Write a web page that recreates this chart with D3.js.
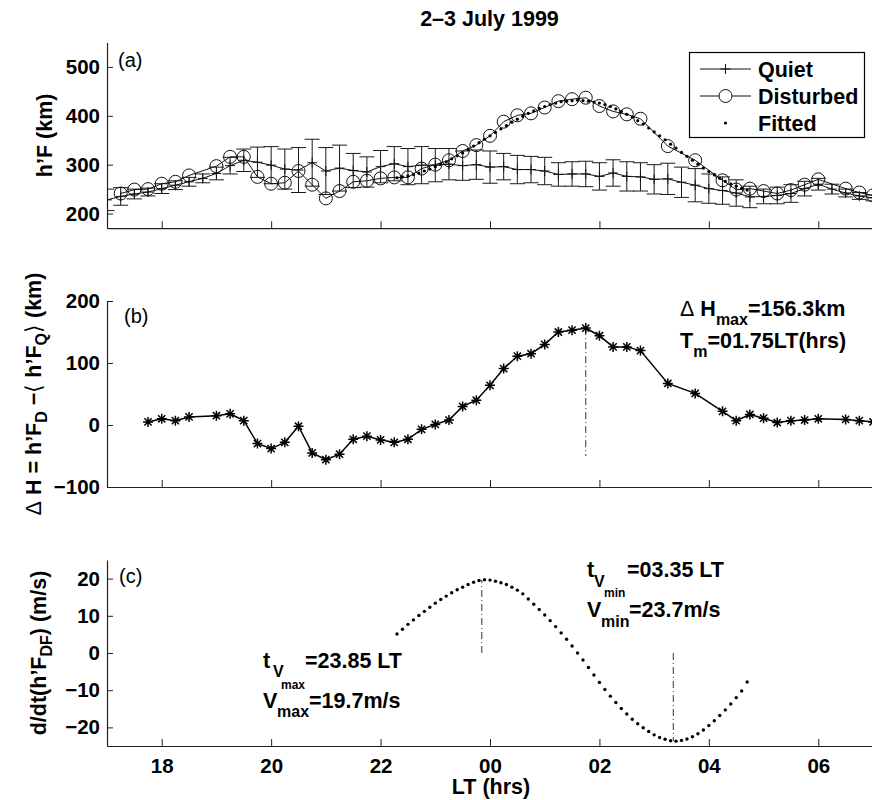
<!DOCTYPE html>
<html>
<head>
<meta charset="utf-8">
<script src="https://cdn.jsdelivr.net/npm/d3@7"></script>
<style>
  body { margin: 0; background: #fff; }
  svg { display: block; }
  text { font-family: "Liberation Sans", Arial, Helvetica, sans-serif; }
</style>
</head>
<body>
<svg id="fig" width="872" height="800"></svg>
<script>
// ---- Local time (hours; 24 = 00 LT next day) ----
const quietLT = [17.00,17.25,17.50,17.75,18.00,18.25,18.50,18.75,19.00,19.25,19.50,19.75,
  20.00,20.25,20.50,20.75,21.00,21.25,21.50,21.75,22.00,22.25,22.50,22.75,23.00,23.25,23.50,23.75,
  24.00,24.25,24.50,24.75,25.00,25.25,25.50,25.75,26.00,26.25,26.50,26.75,27.00,27.25,27.50,27.75,
  28.00,28.25,28.50,28.75,29.00,29.25,29.50,29.75,30.00,30.25,30.50,30.75,31.00];
// Quiet-day mean h'F (km) and its standard deviation
const quietMean = [228,235,240,244,251,258,265,272,282,298,309,305,
  299,291,289,304,287,293,288,285,296,302,296,299,299,301,298,300,
  295,296,290,290,287,280,281,281,276,283,276,275,270,271,264,258,
  251,247,242,234,235,237,241,251,260,250,242,236,232];
const quietStd = [22,18,10,8,10,9,9,9,13,17,23,31,
  38,41,46,48,48,47,35,31,33,35,37,38,34,32,30,30,
  33,27,29,27,28,24,25,26,28,27,30,29,30,32,31,34,
  30,28,27,22,15,17,18,15,12,10,8,7,6];

// Disturbed night h'F (km)
const disturbedLT = [17.25,17.50,17.75,18.00,18.25,18.50,19.00,19.25,19.50,19.75,
  20.00,20.25,20.50,20.75,21.00,21.25,21.50,21.75,22.00,22.25,22.50,22.75,23.00,23.25,23.50,23.75,
  24.00,24.25,24.50,24.75,25.00,25.25,25.50,25.75,26.00,26.25,26.50,26.75,27.25,27.75,
  28.25,28.50,28.75,29.00,29.25,29.50,29.75,30.00,30.50,30.75,31.00];
const disturbedH = [241,249,250,261,265,278,297,316,316,275,
  261,263,287,259,231,246,265,267,272,274,274,292,300,309,328,340,
  359,388,401,405,417,430,434,437,420,409,403,394,338,309,
  268,249,251,246,241,248,259,270,251,243,237];

// Fitted h'F (km) and its time derivative (m/s)
const fittedLT = [22.3,22.4,22.5,22.6,22.7,22.8,22.9,23.0,23.1,23.2,23.3,23.4,23.5,23.6,23.7,23.8,23.9,
  24.0,24.1,24.2,24.3,24.4,24.5,24.6,24.7,24.8,24.9,25.0,25.1,25.2,25.3,25.4,25.5,25.6,25.7,25.8,25.9,
  26.0,26.1,26.2,26.3,26.4,26.5,26.6,26.7,26.8,26.9,27.0,27.1,27.2,27.3,27.4,27.5,27.6,27.7,27.8,27.9,
  28.0,28.1,28.2,28.3,28.4,28.5,28.6,28.7];
const fittedH = [273,275,277,280,283,287,291,296,301,306,312,318,324,331,338,345,352,
  359,366,373,380,387,393,399,405,410,415,419,423,426,429,430,431,432,431,430,428,
  426,423,419,414,409,403,397,390,383,375,367,359,351,342,334,325,317,309,301,293,
  286,279,272,266,261,256,252,248];
const velocity = [5.1,6.4,7.7,8.9,10.1,11.2,12.3,13.4,14.4,15.3,16.2,17.0,17.7,18.4,19.0,19.5,19.7,
  19.6,19.3,18.9,18.4,17.7,16.9,15.9,14.5,13.1,11.7,10.2,8.7,7.1,5.4,3.7,1.9,0.0,-1.9,-3.9,-5.9,
  -7.9,-9.8,-11.6,-13.3,-14.9,-16.4,-17.8,-19.0,-20.1,-21.1,-22.0,-22.7,-23.2,-23.6,-23.7,-23.5,-23.1,-22.5,-21.7,-20.7,
  -19.5,-18.2,-16.8,-15.3,-13.7,-12.0,-10.2,-7.8];

// Height difference Delta H = h'F_D - <h'F_Q> (km)
const deltaLT = [17.75,18.00,18.25,18.50,19.00,19.25,19.50,19.75,
  20.00,20.25,20.50,20.75,21.00,21.25,21.50,21.75,22.00,22.25,22.50,22.75,23.00,23.25,23.50,23.75,
  24.00,24.25,24.50,24.75,25.00,25.25,25.50,25.75,26.00,26.25,26.50,26.75,27.25,27.75,
  28.25,28.50,28.75,29.00,29.25,29.50,29.75,30.00,30.50,30.75,31.00];
const deltaH = [5,10,7,13,15,18,7,-30,
  -38,-28,-2,-45,-56,-47,-23,-18,-24,-28,-23,-7,1,8,30,40,
  64,91,111,115,130,150,153,156.3,144,126,126,120,67,51,
  22,7,17,11,4,7,8,10,9,7,5];

// Annotated extremes
const dHmax = 156.3, dHmaxLT = 25.75, dHlineBottom = -50;
const vMax = 19.7, vMaxLT = 23.85;
const vMin = -23.7, vMinLT = 27.35;

// Axis ticks
const xTickValues = [18, 20, 22, 24, 26, 28, 30];
const xTickLabels = ["18", "20", "22", "00", "02", "04", "06"];
const yTicksA = [200, 300, 400, 500];
const yTicksB = [-100, 0, 100, 200];
const yTicksC = [-20, -10, 0, 10, 20];

// ---- Layout ----
const svg = d3.select("#fig");
const X0 = 107, X1 = 873;
const FS = 21.5, TICK_FS = 20.5, SUB = 16, SUBSUB = 12;
const x = d3.scaleLinear().domain([17, 31]).range([X0, X1]);
const yA = d3.scaleLinear().domain([170, 550]).range([228.2, 42.5]);
const yB = d3.scaleLinear().domain([-100, 200]).range([487, 301]);
const yC = d3.scaleLinear().domain([-25, 25]).range([746, 560]);
const INK = "#000";
const fmtMinus = d => (d < 0 ? "\u2212" + Math.abs(d) : String(d));

function clip(id, y) {
  const r = y.range();
  svg.append("clipPath").attr("id", id).append("rect")
    .attr("x", X0).attr("y", Math.min(r[0], r[1]) - 1)
    .attr("width", X1 - X0 + 1).attr("height", Math.abs(r[0] - r[1]) + 2);
}
clip("clipA", yA); clip("clipB", yB); clip("clipC", yC);

function axes(y, ticks, showX) {
  const r = y.range();
  const gx = svg.append("g").attr("transform", `translate(0,${r[0]})`)
    .call(d3.axisBottom(x).tickValues(xTickValues).tickSize(-7).tickSizeOuter(0).tickPadding(12)
      .tickFormat((d, i) => showX ? xTickLabels[i] : ""));
  const gy = svg.append("g").attr("transform", `translate(${X0},0)`)
    .call(d3.axisLeft(y).tickValues(ticks).tickSize(-6).tickSizeOuter(0).tickPadding(7)
      .tickFormat(fmtMinus));
  [gx, gy].forEach(g => {
    g.selectAll("path.domain").attr("stroke", "#222").attr("stroke-width", 1.2);
    g.selectAll(".tick line").attr("stroke", "#222").attr("stroke-width", 1);
    g.selectAll("text").attr("font-size", TICK_FS).attr("font-weight", "bold").attr("fill", INK)
      .attr("font-family", "'Liberation Sans', Arial, sans-serif");
  });
}

// ---- Title ----
svg.append("text").attr("x", (X0 + 872) / 2).attr("y", 26).attr("text-anchor", "middle")
  .attr("font-size", FS).attr("font-weight", "bold").text("2\u20133 July 1999");

// ================= Panel (a) =================
axes(yA, yTicksA, false);
const pa = svg.append("g").attr("clip-path", "url(#clipA)");
const quiet = quietLT.map((t, i) => ({ t, m: quietMean[i], s: quietStd[i] }));
const dist = disturbedLT.map((t, i) => ({ t, h: disturbedH[i] }));
const fit = fittedLT.map((t, i) => ({ t, h: fittedH[i], v: velocity[i] }));

// error bars
const eb = pa.append("g").attr("stroke", "#1a1a1a").attr("stroke-width", 1).attr("fill", "none");
quiet.forEach(d => {
  const cx = x(d.t), y1 = yA(d.m - d.s), y2 = yA(d.m + d.s);
  eb.append("path").attr("d", `M${cx},${y1}V${y2}M${cx - 7.5},${y1}H${cx + 7.5}M${cx - 7.5},${y2}H${cx + 7.5}`);
});
// quiet mean line with plus markers
pa.append("path").datum(quiet).attr("fill", "none").attr("stroke", "#111").attr("stroke-width", 1)
  .attr("d", d3.line().x(d => x(d.t)).y(d => yA(d.m)));
pa.append("g").selectAll("path").data(quiet).join("path")
  .attr("stroke", "#111").attr("stroke-width", 1)
  .attr("d", d => { const cx = x(d.t), cy = yA(d.m); return `M${cx - 5},${cy}H${cx + 5}M${cx},${cy - 5}V${cy + 5}`; });
// disturbed line with open circles
pa.append("path").datum(dist).attr("fill", "none").attr("stroke", "#111").attr("stroke-width", 1)
  .attr("d", d3.line().x(d => x(d.t)).y(d => yA(d.h)));
pa.append("g").selectAll("circle").data(dist).join("circle")
  .attr("cx", d => x(d.t)).attr("cy", d => yA(d.h)).attr("r", 6.5)
  .attr("fill", "none").attr("stroke", "#111").attr("stroke-width", 1);
// fitted dots
pa.append("g").selectAll("circle").data(fit).join("circle")
  .attr("cx", d => x(d.t)).attr("cy", d => yA(d.h)).attr("r", 1.6).attr("fill", INK);

svg.append("text").attr("x", 118).attr("y", 67).attr("font-size", 20).text("(a)");

// legend
const lg = svg.append("g");
lg.append("rect").attr("x", 689.5).attr("y", 52.5).attr("width", 175).attr("height", 85)
  .attr("fill", "#fff").attr("stroke", INK).attr("stroke-width", 1.2);
const legendRows = [["Quiet", 69], ["Disturbed", 96], ["Fitted", 123]];
legendRows.forEach(([name, cy], i) => {
  if (i < 2) lg.append("line").attr("x1", 700).attr("x2", 751).attr("y1", cy).attr("y2", cy)
    .attr("stroke", "#111").attr("stroke-width", 1);
  if (i === 0) lg.append("path").attr("stroke", "#111").attr("d", `M720.5,${cy}H730.5M725.5,${cy - 5}V${cy + 5}`);
  if (i === 1) lg.append("circle").attr("cx", 725.5).attr("cy", cy).attr("r", 6.5).attr("fill", "#fff").attr("stroke", "#111");
  if (i === 2) lg.append("circle").attr("cx", 725.5).attr("cy", cy).attr("r", 1.6).attr("fill", INK);
  lg.append("text").attr("x", 758).attr("y", cy + 7.5).attr("font-size", FS).attr("font-weight", "bold").text(name);
});

// y label (a)
svg.append("text").attr("transform", `translate(52,${(yA.range()[0] + yA.range()[1]) / 2}) rotate(-90)`)
  .attr("text-anchor", "middle").attr("font-size", FS).attr("font-weight", "bold").text("h\u2019F (km)");

// ================= Panel (b) =================
axes(yB, yTicksB, false);
const pb = svg.append("g").attr("clip-path", "url(#clipB)");
const delta = deltaLT.map((t, i) => ({ t, v: deltaH[i] }));
pb.append("line").attr("x1", x(dHmaxLT)).attr("x2", x(dHmaxLT))
  .attr("y1", yB(dHmax)).attr("y2", yB(dHlineBottom))
  .attr("stroke", "#333").attr("stroke-width", 1).attr("stroke-dasharray", "7,3,1,3");
pb.append("path").datum(delta).attr("fill", "none").attr("stroke", INK).attr("stroke-width", 1.5)
  .attr("d", d3.line().x(d => x(d.t)).y(d => yB(d.v)));
pb.append("g").selectAll("path").data(delta).join("path")
  .attr("stroke", INK).attr("stroke-width", 1.5).attr("fill", "none")
  .attr("d", d => {
    const cx = x(d.t), cy = yB(d.v), a = 5, b = 3.6;
    return `M${cx - a},${cy}H${cx + a}M${cx},${cy - a}V${cy + a}` +
      `M${cx - b},${cy - b}L${cx + b},${cy + b}M${cx - b},${cy + b}L${cx + b},${cy - b}`;
  });
svg.append("text").attr("x", 124).attr("y", 323).attr("font-size", 20).text("(b)");

// annotation (b)
const annB1 = svg.append("text").attr("x", 680).attr("y", 316).attr("font-size", FS).attr("font-weight", "bold");
annB1.append("tspan").attr("font-weight", "normal").text("\u0394");
annB1.append("tspan").text(" H");
annB1.append("tspan").attr("font-size", SUB).attr("dy", 9).text("max");
annB1.append("tspan").attr("dy", -9).text("=" + dHmax.toFixed(1) + "km");
const annB2 = svg.append("text").attr("x", 680).attr("y", 348).attr("font-size", FS).attr("font-weight", "bold");
annB2.append("tspan").text("T");
annB2.append("tspan").attr("font-size", SUB).attr("dy", 9).text("m");
annB2.append("tspan").attr("dy", -9).text("=01.75LT(hrs)");

// y label (b)
const labB = svg.append("text")
  .attr("transform", `translate(41,${(yB.range()[0] + yB.range()[1]) / 2}) rotate(-90)`)
  .attr("text-anchor", "middle").attr("font-size", FS).attr("font-weight", "bold");
labB.append("tspan").attr("font-weight", "normal").text("\u0394");
labB.append("tspan").text(" H = h\u2019F");
labB.append("tspan").attr("font-size", SUB).attr("dy", 6).text("D");
labB.append("tspan").attr("dy", -6).text(" \u2212");
labB.append("tspan").attr("font-weight", "normal").text("\u27E8");
labB.append("tspan").text(" h\u2019F");
labB.append("tspan").attr("font-size", SUB).attr("dy", 6).text("Q");
labB.append("tspan").attr("dy", -6).attr("font-weight", "normal").text("\u27E9");
labB.append("tspan").text(" (km)");

// ================= Panel (c) =================
axes(yC, yTicksC, true);
const pc = svg.append("g").attr("clip-path", "url(#clipC)");
[[vMaxLT, vMax], [vMinLT, vMin]].forEach(([t, v]) => {
  pc.append("line").attr("x1", x(t)).attr("x2", x(t)).attr("y1", yC(0)).attr("y2", yC(v))
    .attr("stroke", "#333").attr("stroke-width", 1).attr("stroke-dasharray", "7,3,1,3");
});
pc.append("g").selectAll("circle").data(fit).join("circle")
  .attr("cx", d => x(d.t)).attr("cy", d => yC(d.v)).attr("r", 1.7).attr("fill", INK);
svg.append("text").attr("x", 119).attr("y", 583).attr("font-size", 20).text("(c)");

// annotations (c)
function put(txt, px, py, size) {
  svg.append("text").attr("x", px).attr("y", py).attr("font-size", size).attr("font-weight", "bold").text(txt);
}
put("t", 263, 668, FS); put("V", 273, 677, SUB); put("max", 281, 689, SUBSUB);
put("=" + vMaxLT.toFixed(2) + " LT", 305, 668, FS);
put("V", 263, 708, FS); put("max", 277, 717, SUB); put("=" + vMax.toFixed(1) + "m/s", 309, 708, FS);
put("t", 587, 577, FS); put("V", 594, 587, SUB); put("min", 604, 597, SUBSUB);
put("=0" + (vMinLT - 24).toFixed(2) + " LT", 627, 577, FS);
put("V", 587, 617, FS); put("min", 601, 627, SUB); put("=" + Math.abs(vMin).toFixed(1) + "m/s", 629, 617, FS);

// y label (c)
const labC = svg.append("text")
  .attr("transform", `translate(46,${(yC.range()[0] + yC.range()[1]) / 2}) rotate(-90)`)
  .attr("text-anchor", "middle").attr("font-size", FS).attr("font-weight", "bold");
labC.append("tspan").text("d/dt(h\u2019F");
labC.append("tspan").attr("font-size", SUB).attr("dy", 6).text("DF");
labC.append("tspan").attr("dy", -6).text(") (m/s)");

// x label
svg.append("text").attr("x", 491).attr("y", 794).attr("text-anchor", "middle")
  .attr("font-size", FS).attr("font-weight", "bold").text("LT (hrs)");
</script>
</body>
</html>
